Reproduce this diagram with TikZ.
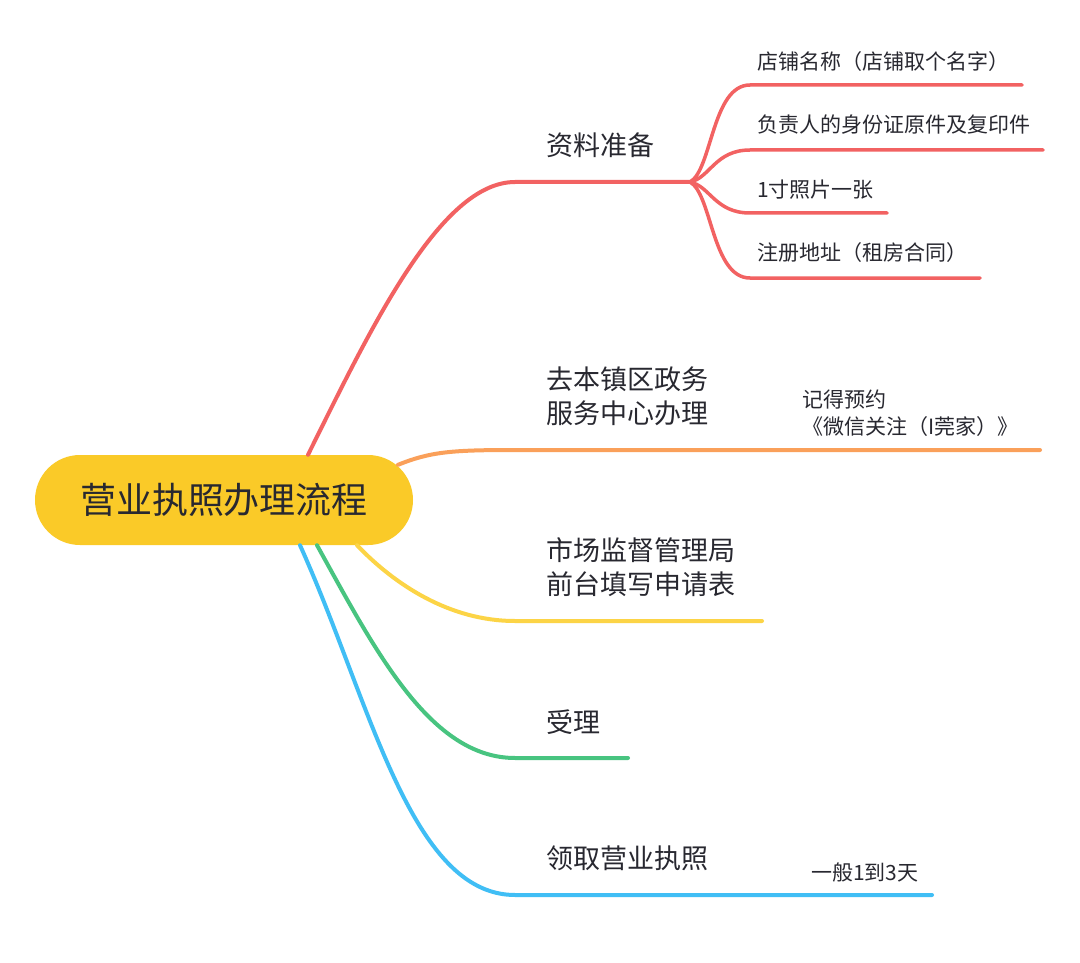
\documentclass[tikz,border=0pt]{standalone}
\usepackage{fontspec}
\setmainfont{Noto Sans CJK SC}
\definecolor{rootfill}{RGB}{250,202,40}
\definecolor{ink}{RGB}{40,40,48}
\definecolor{redline}{RGB}{242,98,98}
\definecolor{orangeline}{RGB}{250,160,90}
\definecolor{yellowline}{RGB}{252,212,70}
\definecolor{greenline}{RGB}{72,196,128}
\definecolor{blueline}{RGB}{64,190,245}
\tikzset{
  topic/.style={anchor=west, inner sep=0pt, align=left, text=ink, font=\fontsize{27}{34}\selectfont},
  subtopic/.style={topic, font=\fontsize{21}{27}\selectfont},
  branch/.style={line width=4pt, line cap=round},
  twig/.style={line width=3.5pt, line cap=round}
}
\begin{document}
\begin{tikzpicture}[x=1pt, y=-1pt]
  \fill[white] (0,0) rectangle (1080,963);
  \useasboundingbox (0,0) rectangle (1080,963);
  \node (root) [fill=rootfill, rounded corners=45pt, minimum width=378pt, minimum height=90pt,
    text=ink, font=\fontsize{36}{40}\selectfont] at (224,500) {营业执照办理流程};

  \coordinate (hub) at (690,182);
  \coordinate (e2) at (1040,450);
  \coordinate (e3) at (762,621);
  \coordinate (e4) at (628,758);
  \coordinate (e5) at (932,895);
  \coordinate (f1) at (1022,85);
  \coordinate (f2) at (1043,150);
  \coordinate (f3) at (887,213);
  \coordinate (f4) at (980,278);

  \draw[branch, redline] ([xshift=84pt]root.north) .. controls (370,330) and (440,182) .. (515,182) -- (hub);
  \draw[branch, orangeline] ([shift={(174,10)}]root.north) .. controls (430,452) and (450,450) .. (515,450) -- (e2);
  \draw[branch, yellowline] ([xshift=133pt]root.south) .. controls (395,585) and (450,621) .. (515,621) -- (e3);
  \draw[branch, greenline] ([xshift=93pt]root.south) .. controls (375,650) and (430,758) .. (515,758) -- (e4);
  \draw[branch, blueline] ([xshift=76pt]root.south) .. controls (370,700) and (410,895) .. (515,895) -- (e5);

  \draw[twig, redline] (hub) .. controls (712,170) and (712,85) .. (750,85) -- (f1);
  \draw[twig, redline] (hub) .. controls (710,178) and (715,150) .. (750,150) -- (f2);
  \draw[twig, redline] (hub) .. controls (710,186) and (715,213) .. (750,213) -- (f3);
  \draw[twig, redline] (hub) .. controls (712,194) and (712,278) .. (750,278) -- (f4);

  \node (t1) [topic] at (546,145) {资料准备};
  \node (t2) [topic] at (546,396) {去本镇区政务\\服务中心办理};
  \node (t3) [topic] at (546,567) {市场监督管理局\\前台填写申请表};
  \node (t4) [topic] at (546,722) {受理};
  \node (t5) [topic] at (546,858) {领取营业执照};

  \node (s1) [subtopic] at (757,62) {店铺名称（店铺取个名字）};
  \node (s2) [subtopic] at (757,125) {负责人的身份证原件及复印件};
  \node (s3) [subtopic] at (757,190) {1寸照片一张};
  \node (s4) [subtopic] at (757,253) {注册地址（租房合同）};
  \node (s5) [subtopic] at (802,413) {记得预约\\《微信关注（I莞家）》};
  \node (s6) [subtopic] at (811,873) {一般1到3天};
\end{tikzpicture}
\end{document}
